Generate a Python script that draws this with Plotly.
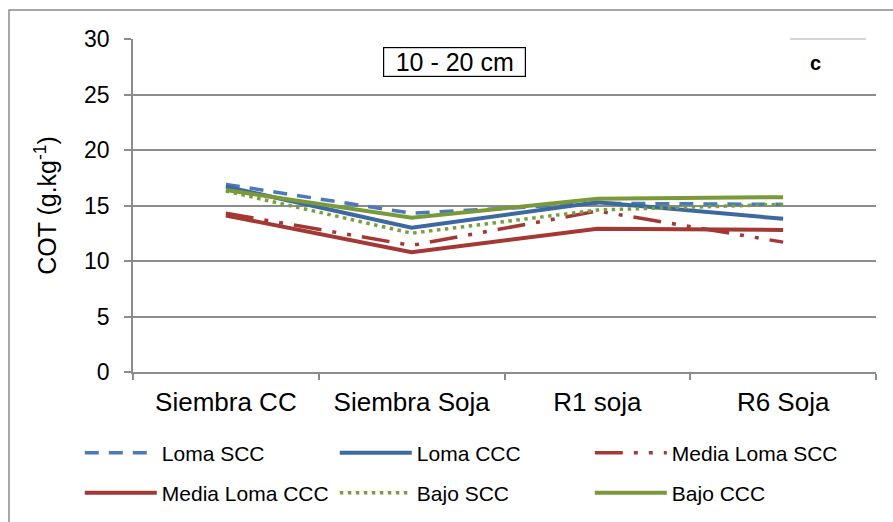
import plotly.graph_objects as go

categories = ["Siembra CC", "Siembra Soja", "R1 soja", "R6 Soja"]
loma_scc = [16.9, 14.3, 15.2, 15.1]
loma_ccc = [16.7, 13.0, 15.3, 13.8]
media_loma_scc = [14.3, 11.4, 14.5, 11.7]
media_loma_ccc = [14.1, 10.8, 12.9, 12.8]
bajo_scc = [16.3, 12.5, 14.6, 15.1]
bajo_ccc = [16.4, 13.9, 15.6, 15.75]
y_ticks = [0, 5, 10, 15, 20, 25, 30]

FONT = "Liberation Sans, Arial, sans-serif"
GRID = "#8c8c8c"

series = [
    ("Loma SCC", loma_scc, "#4a7ab8", "14px,10px", 3.5, "legend"),
    ("Loma CCC", loma_ccc, "#3d68a2", "solid", 4, "legend"),
    ("Media Loma SCC", media_loma_scc, "#a33835", "28px,11px,4px,11px,4px,11px", 3.5, "legend"),
    ("Media Loma CCC", media_loma_ccc, "#a33835", "solid", 4, "legend2"),
    ("Bajo SCC", bajo_scc, "#77a03c", "3.5px,4.5px", 3.5, "legend2"),
    ("Bajo CCC", bajo_ccc, "#7a9a3a", "solid", 4, "legend2"),
]

fig = go.Figure()
for name, vals, color, dash, w, lg in series:
    fig.add_trace(go.Scatter(
        x=categories, y=vals, name=name, mode="lines",
        line=dict(color=color, width=w, dash=dash),
        legend=lg,
    ))

W, H = 893, 522
L, R, T, B = 133, 17, 39, 150
PW, PH = W - L - R, H - T - B

def px(x):
    return (x - L) / PW

def py(y):
    return (H - B - y) / PH

legend_common = dict(
    orientation="h", font=dict(family=FONT, size=21, color="#000"),
    itemwidth=72, entrywidth=168, entrywidthmode="pixels",
    xanchor="left", yanchor="middle", bgcolor="rgba(0,0,0,0)",
    tracegroupgap=0, itemclick=False,
)

fig.update_layout(
    width=W, height=H,
    margin=dict(l=L, r=R, t=T, b=B, autoexpand=False),
    paper_bgcolor="white", plot_bgcolor="white",
    font=dict(family=FONT, color="#000"),
    showlegend=True,
    legend=dict(x=px(85) - 0.007, y=py(453), **legend_common),
    legend2=dict(x=px(85) - 0.007, y=py(493), **legend_common),
    xaxis=dict(
        type="category", range=[-0.5, 3.5],
        showgrid=False, showline=True, linecolor=GRID, linewidth=1.5,
        ticks="outside", tickson="boundaries", ticklen=6, tickcolor=GRID, tickwidth=1.5,
        tickfont=dict(family=FONT, size=26, color="#000"),
        ticklabelstandoff=6,
        fixedrange=True,
    ),
    yaxis=dict(
        range=[0, 30], tickvals=y_ticks,
        showgrid=True, gridcolor=GRID, gridwidth=1.5,
        showline=True, linecolor=GRID, linewidth=1.5,
        ticks="outside", ticklen=7, tickcolor=GRID, tickwidth=1.5,
        tickfont=dict(family=FONT, size=23, color="#000"),
        ticklabelstandoff=10,
        zeroline=False,
        title=dict(text="COT (g.kg<sup>-1</sup>)", font=dict(family=FONT, size=25, color="#000"), standoff=20),
        fixedrange=True,
    ),
    shapes=[
        dict(type="rect", xref="paper", yref="paper",
             x0=px(9), x1=px(900), y0=py(530), y1=py(10),
             line=dict(color="#8a8a8a", width=1.5), fillcolor="rgba(0,0,0,0)", layer="below"),
        dict(type="line", xref="paper", yref="paper",
             x0=px(790), x1=px(866), y0=1, y1=1,
             line=dict(color="#d6d6d6", width=2), layer="above"),
    ],
    annotations=[
        dict(text="10 - 20 cm", xref="paper", yref="paper",
             x=px(454.5), y=py(62), xanchor="center", yanchor="middle",
             showarrow=False, font=dict(family=FONT, size=25, color="#000"),
             bordercolor="#000", borderwidth=1.2, borderpad=0,
             width=141, height=28, bgcolor="white"),
        dict(text="<b>c</b>", xref="paper", yref="paper",
             x=px(815), y=py(63), xanchor="center", yanchor="middle",
             showarrow=False, font=dict(family=FONT, size=20, color="#000")),
    ],
)

fig.write_html("out.html", config={"displayModeBar": False},
               post_script="document.body.style.margin='0px';")
